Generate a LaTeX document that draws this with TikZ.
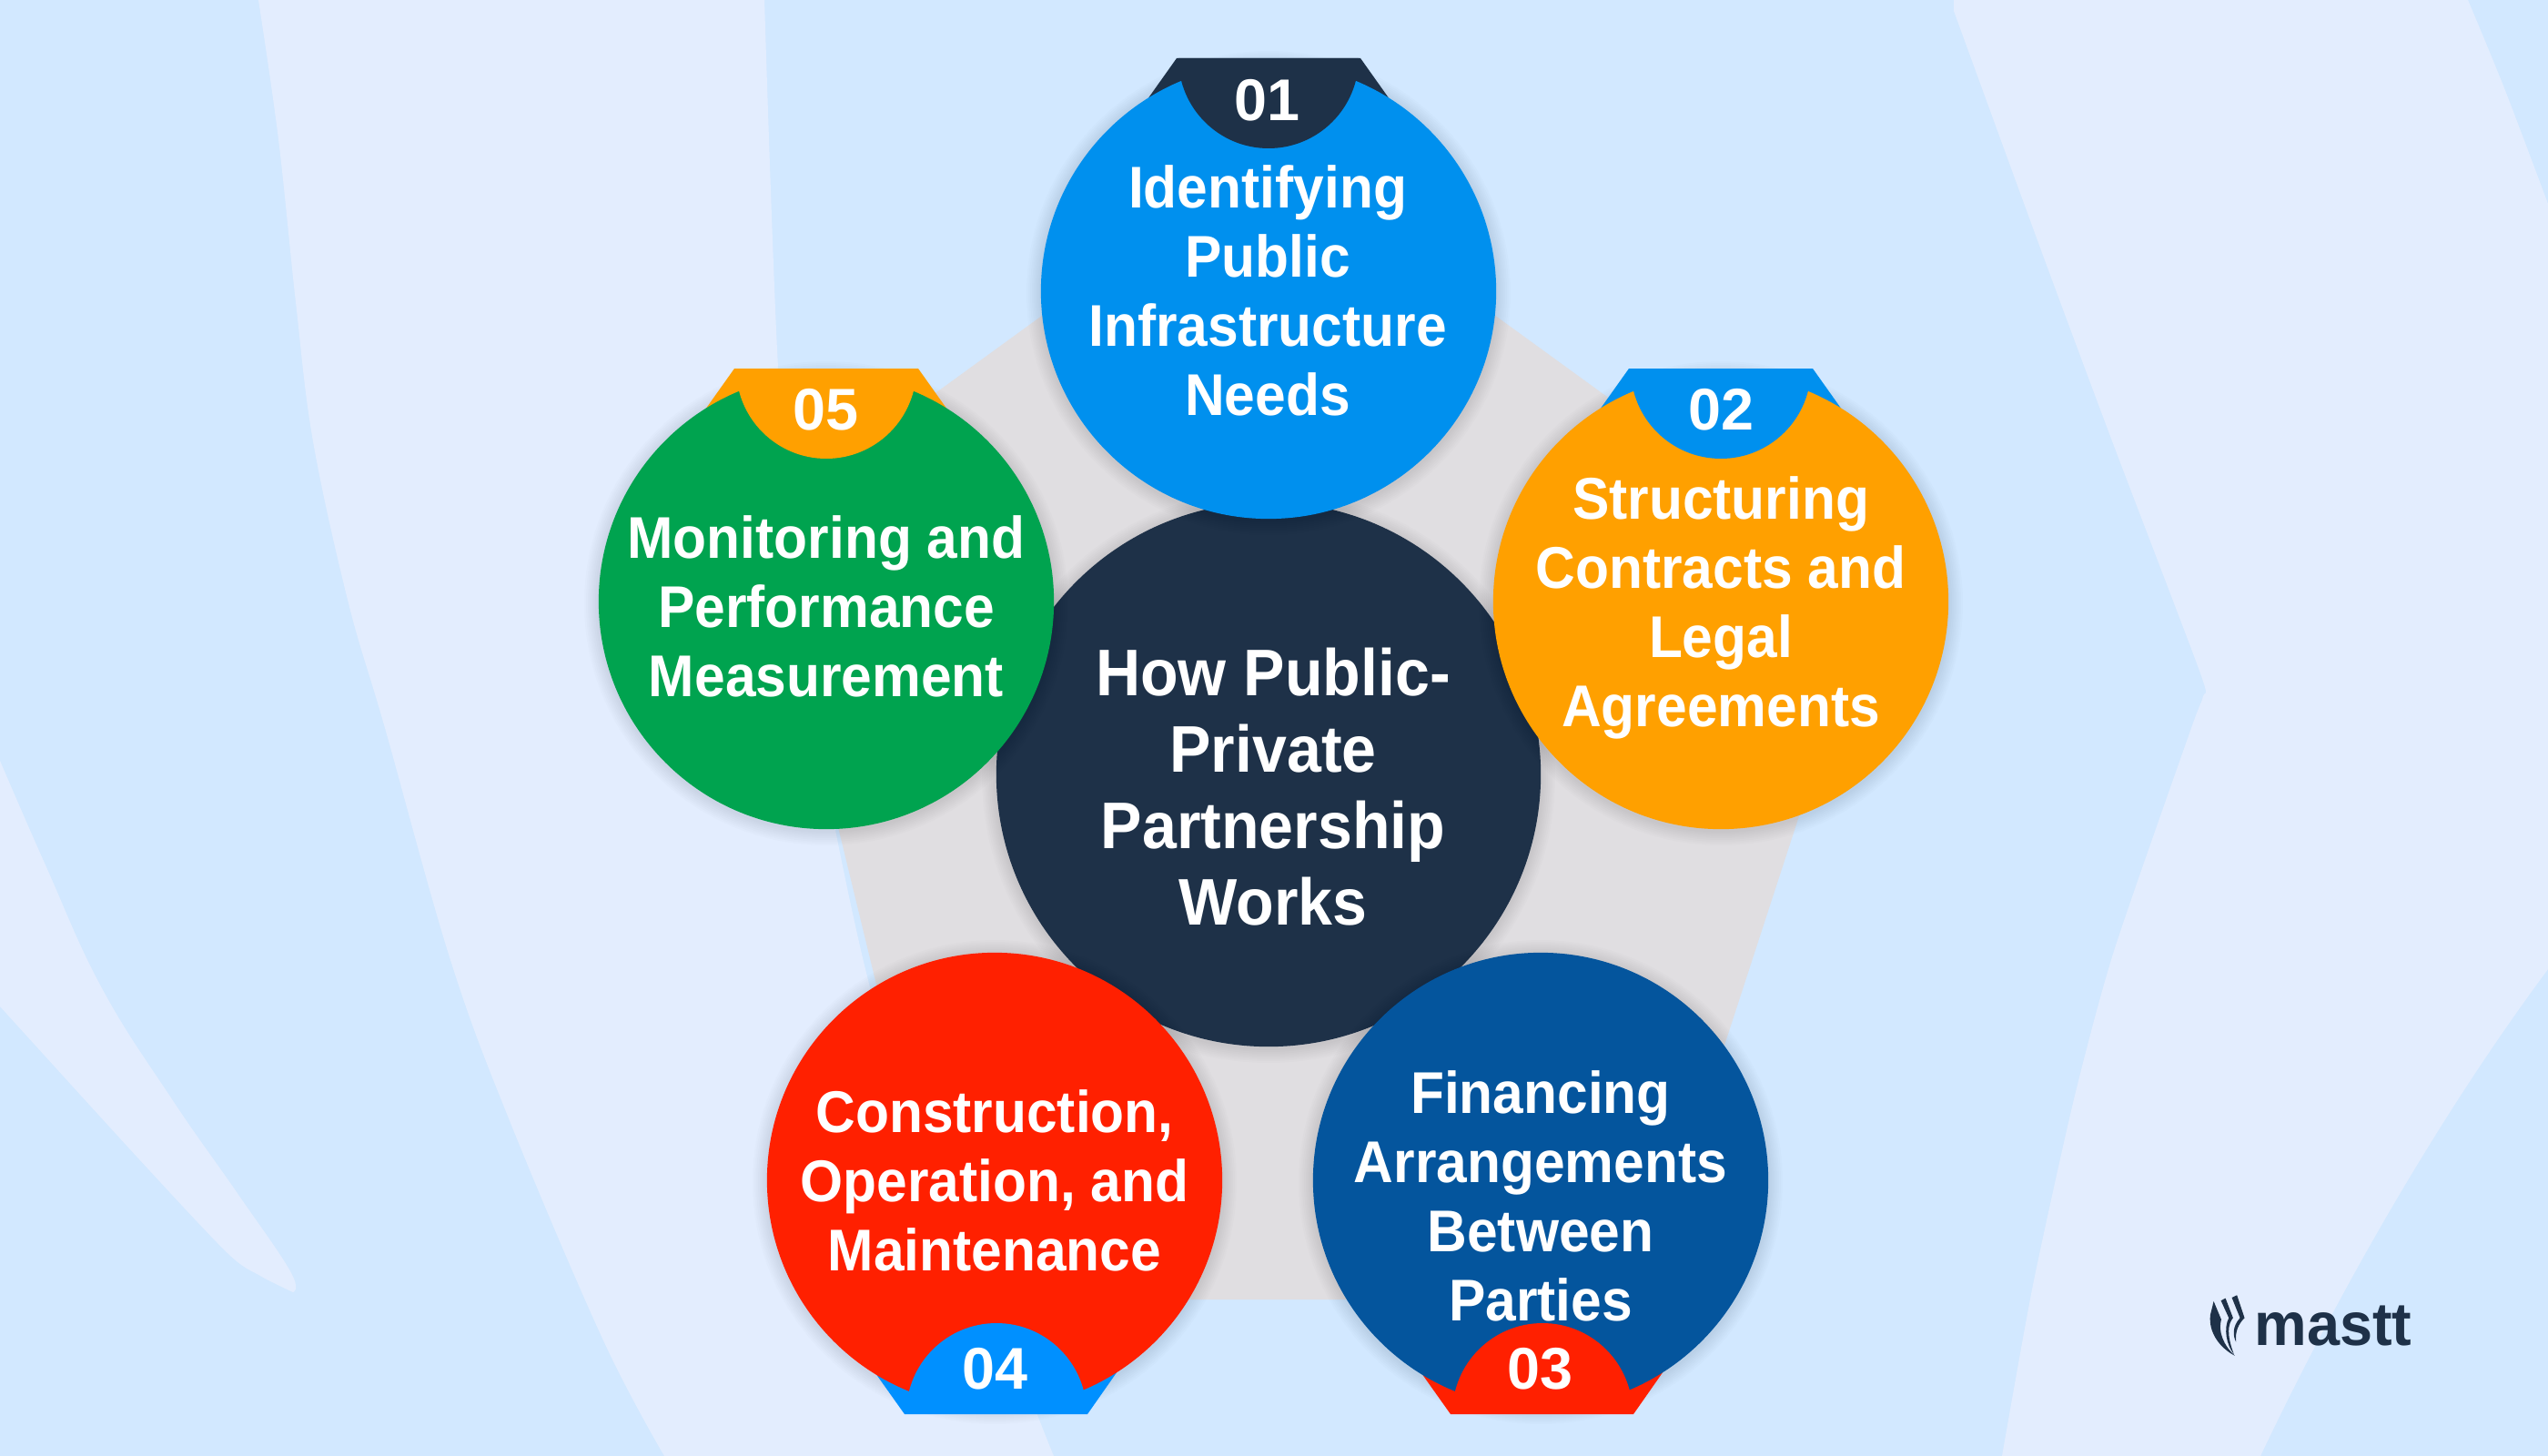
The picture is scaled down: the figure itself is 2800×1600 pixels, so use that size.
\documentclass[tikz,border=0pt]{standalone}
\usepackage{fontspec}
\setmainfont{Liberation Sans}
\definecolor{basebg}{HTML}{D2E8FF}
\definecolor{palebg}{HTML}{E3EDFE}
\definecolor{penta}{HTML}{E0DEE1}
\definecolor{navy}{HTML}{1E3148}
\definecolor{skyb}{HTML}{0090EE}
\definecolor{brightb}{HTML}{0090FF}
\definecolor{amber}{HTML}{FFA000}
\definecolor{deepb}{HTML}{04559D}
\definecolor{redd}{HTML}{FF2000}
\definecolor{leaf}{HTML}{00A34F}
\tikzset{
  disc/.style={circle,draw=none,inner sep=0pt,outer sep=0pt,minimum size=5cm},
  bigdisc/.style={disc,minimum size=5.98cm,fill=navy},
  steptext/.style={text=white,align=center,font=\fontsize{18.4pt}{21.6pt}\selectfont\bfseries,inner sep=0pt,xscale=.935},
  maintext/.style={text=white,align=center,font=\fontsize{20.6pt}{23.9pt}\selectfont\bfseries,inner sep=0pt,xscale=.94},
  numtext/.style={text=white,font=\fontsize{18.4pt}{21.6pt}\selectfont\bfseries,inner sep=0pt},
  logotext/.style={text=navy,font=\fontsize{19pt}{22pt}\selectfont\bfseries,inner sep=0pt,xscale=.97,anchor=base west},
  softedge/.style={fill=black,fill opacity=.012,draw=none}
}
% #1 x, #2 y, #3 base radius
\newcommand{\softshadow}[3]{%
  \foreach \rr in {2,4,...,16}{\fill[softedge] (#1,#2+2) circle[radius=#3+\rr];}}
% #1 name, #2 cx, #3 cy, #4 disc colour, #5 tab colour
\newcommand{\discwithtoptab}[5]{%
  \softshadow{#2}{#3}{250}
  \fill[#5] (#2-101,#3-256) -- (#2+101,#3-256) -- (#2+172,#3-156) -- (#2-172,#3-156) -- cycle;
  \node[disc,fill=#4] (#1) at (#2,#3) {};
  \fill[#5] (#2-99,#3-256) arc[start angle=180,end angle=0,radius=99] -- cycle;}
\newcommand{\discwithbottab}[5]{%
  \softshadow{#2}{#3}{250}
  \fill[#5] (#2-99,#3+257) -- (#2+102,#3+257) -- (#2+172,#3+157) -- (#2-170,#3+157) -- cycle;
  \node[disc,fill=#4] (#1) at (#2,#3) {};
  \fill[#5] (#2-97,#3+256) arc[start angle=180,end angle=360,radius=99] -- cycle;}
\begin{document}
\begin{tikzpicture}[x=0.01cm,y=-0.01cm]
\useasboundingbox (0,0) rectangle (2800,1600);
\fill[basebg] (0,0) rectangle (2800,1600);
% background bands
\fill[palebg] plot[smooth,tension=.6] coordinates {(284,0) (306,153) (325,332) (344,485) (383,663) (423,800) (495,1055) (561,1234) (663,1473) (730,1600)}
  -- plot[smooth,tension=.5] coordinates {(1158,1600) (1142,1560) (1060,1350) (960,1100) (880,700) (855,403) (840,0)} -- cycle;
\fill[palebg] plot[smooth,tension=.7] coordinates {(0,836) (51,953) (112,1086) (189,1208) (260,1310) (319,1397) (322,1420)}
  -- plot[smooth,tension=.5] coordinates {(322,1420) (286,1402) (250,1377) (153,1274) (0,1106)} -- cycle;
\fill[palebg] (2147,0) -- plot[smooth,tension=.4] coordinates {(2147,12) (2247,286) (2323,490) (2418,740) (2421,765) (2408,800) (2323,1045) (2279,1208) (2234,1412) (2200,1600)}
  -- (2484,1600) .. controls (2560,1440) and (2670,1240) .. (2800,1065)
  -- plot[smooth,tension=.5] coordinates {(2800,224) (2752,97) (2712,0)} -- cycle;
% pentagon
\fill[penta] (1394,166) -- (2058,648) -- (1804,1428) -- (1047,1428) -- (922,913) -- (905,850) -- (860,554) -- cycle;
% centre
\softshadow{1394}{851}{299}
\node[bigdisc] (hub) at (1394,851) {};
% outer discs
\discwithtoptab{d1}{1394}{320}{skyb}{navy}
\discwithtoptab{d2}{1891}{661}{amber}{skyb}
\discwithbottab{d3}{1693}{1297}{deepb}{redd}
\discwithbottab{d4}{1093}{1297}{redd}{brightb}
\discwithtoptab{d5}{908}{661}{leaf}{amber}
% texts
\node[maintext] (hubt) at (1399,865) {How Public-\\Private\\Partnership\\Works};
\node[steptext] (t1) at (1393,319) {Identifying\\Public\\Infrastructure\\Needs};
\node[steptext] (t2) at (1891,668) {Structuring\\Contracts and\\Legal\\Agreements};
\node[steptext] (t3) at (1693,1314) {Financing\\Arrangements\\Between\\Parties};
\node[steptext] (t4) at (1093,1297) {Construction,\\Operation, and\\Maintenance};
\node[steptext] (t5) at (908,666) {Monitoring and\\Performance\\Measurement};
\node[numtext] (n1) at (1392,110) {01};
\node[numtext] (n2) at (1891,450) {02};
\node[numtext] (n3) at (1692,1504) {03};
\node[numtext] (n4) at (1093,1504) {04};
\node[numtext] (n5) at (907,450) {05};
% logo
\node[logotext] (logo) at (2477,1478) {mastt};
\begin{scope}[shift={(2380,1380)},x=0.00333cm,y=-0.00333cm]
\fill[navy] (218,138) -- (235,130) -- (260,205) .. controls (240,225) and (228,250) .. (232,285) .. controls (222,265) and (218,235) .. (245,205) -- cycle;
\fill[navy] (182,148) -- (197,140) -- (222,205) .. controls (205,225) and (200,260) .. (225,325) .. controls (200,295) and (190,240) .. (208,205) -- cycle;
\fill[navy] (158,150) -- (183,210) .. controls (172,250) and (190,295) .. (228,330) .. controls (180,305) and (140,255) .. (147,195) -- cycle;
\end{scope}
\end{tikzpicture}
\end{document}
